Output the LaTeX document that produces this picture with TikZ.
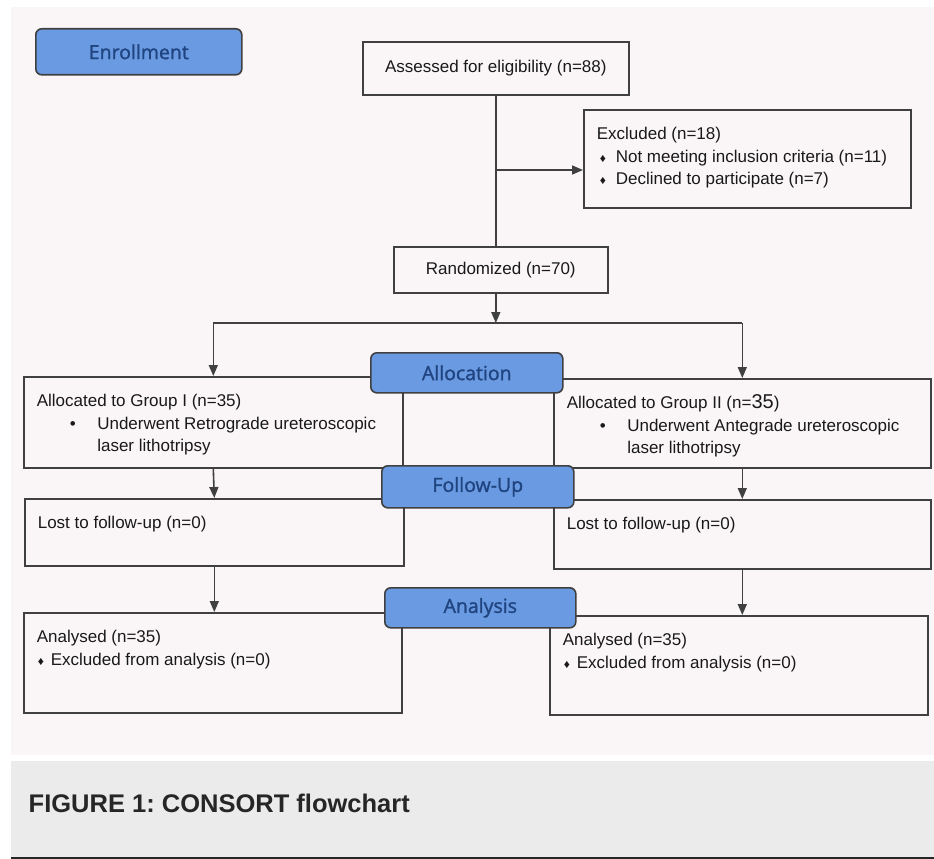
\documentclass[tikz,border=0pt]{standalone}
\usepackage{fontspec}
\setmainfont{Liberation Sans}
\newfontface\stagefont{Open Sans}[FakeBold=1.4]
\usetikzlibrary{arrows.meta}
\definecolor{stageblue}{RGB}{106,155,226}
\definecolor{stagetext}{RGB}{32,68,128}
\definecolor{paper}{RGB}{250,246,247}
\definecolor{capgrey}{RGB}{235,235,235}
% text of a box, pinned to its top
\newcommand\boxtext[3]{\parbox[c][#2][t]{#1}{\raggedright\rule{0pt}{30pt}#3}}
\newcommand\dia{{\fontsize{12}{12}\selectfont ♦}}

\begin{document}
\begin{tikzpicture}[x=1pt,y=-1pt,>={Triangle[length=11pt,width=9pt]},
box/.style={
	% The shape:
	rectangle,anchor=north west,
	% The border:
	line width=1.6pt,
	draw=black!75,
	% Font
	font=\fontsize{17}{22.5}\selectfont,text=black!90},
panel/.style={box,inner xsep=13pt,inner ysep=0pt},
stage/.style={
	% The shape:
	rectangle,rounded corners=6pt,anchor=north west,inner sep=0pt,
	% The rest
	line width=1.6pt,draw=black!75,fill=stageblue,
	font=\stagefont\fontsize{19.5}{20}\selectfont,text=stagetext},
link/.style={line width=1.6pt,draw=black!75}]

\useasboundingbox (0,0) rectangle (934,859);

% paper and caption strip
\fill[paper] (11,7) rectangle (934,755);
\fill[capgrey] (11,761) rectangle (934,857);
\fill[black!85] (11,857) rectangle (934,859);
\node (cap) [anchor=west,inner sep=0pt,font=\bfseries\fontsize{25.5}{26}\selectfont,text=black!85]
	at (28.5,803) {\frenchspacing FIGURE 1: CONSORT flowchart};

% main trunk
\node (A) [box,minimum width=266pt,minimum height=53pt] at (362,41) {Assessed for eligibility (n=88)};
\node (B) [panel] at (583,109) {\boxtext{301pt}{98pt}{Excluded (n=18)\\
	\hspace*{3pt}\makebox[16pt][l]{\dia}Not meeting inclusion criteria (n=11)\\
	\hspace*{3pt}\makebox[16pt][l]{\dia}Declined to participate (n=7)}};
\node (C) [box,minimum width=214pt,minimum height=46pt] at (393,246) {Randomized (n=70)};

% the two arms
\node (D) [panel] at (23,376) {\boxtext{353pt}{91pt}{Allocated to Group I (n=35)\\
	\hspace*{33pt}\makebox[27.5pt][l]{\textbullet}Underwent Retrograde ureteroscopic\\
	\hspace*{60.5pt}laser lithotripsy}};
\node (E) [panel] at (553,378) {\boxtext{351pt}{89pt}{Allocated to Group II (n={\fontsize{20}{20}\selectfont 35})\\
	\hspace*{33pt}\makebox[27.5pt][l]{\textbullet}Underwent Antegrade ureteroscopic\\
	\hspace*{60.5pt}laser lithotripsy}};
\node (F) [panel] at (24,498) {\boxtext{353pt}{67pt}{Lost to follow-up (n=0)}};
\node (G) [panel] at (553,499) {\boxtext{351pt}{69pt}{Lost to follow-up (n=0)}};
\node (H) [panel] at (23,612) {\boxtext{352pt}{100pt}{Analysed (n=35)\\
	\hspace*{1pt}\makebox[13pt][l]{\dia}Excluded from analysis (n=0)}};
\node (I) [panel] at (549,615) {\boxtext{352pt}{99pt}{Analysed (n=35)\\
	\hspace*{1pt}\makebox[13pt][l]{\dia}Excluded from analysis (n=0)}};

% connectors
\coordinate (split) at (A.south |- 0,170);
\coordinate (fork) at (A.south |- 0,323);
\draw[link] (A.south) -- (A.south |- C.north);
\draw[link,->] (split) -- (split -| B.west);
\draw[link,->] (A.south |- C.south) -- (fork);
\draw[link] (D.north |- fork) -- (E.north |- fork);
\draw[link,->] (D.north |- fork) -- (D.north);
\draw[link,->] (E.north |- fork) -- (E.north);
\draw[link,->] (D.south) -- (F.north);
\draw[link,->] (E.south) -- (G.north);
\draw[link,->] (F.south) -- (F.south |- H.north);
\draw[link,->] (G.south) -- (G.south |- I.north);

% stage labels go on top
\node (r1) [stage,minimum width=206pt,minimum height=46pt] at (35,28) {Enrollment};
\node (r2) [stage,minimum width=192pt,minimum height=40pt] at (370,352) {Allocation};
\node (r3) [stage,minimum width=192pt,minimum height=42pt] at (381,465) {Follow-Up};
\node (r4) [stage,minimum width=191pt,minimum height=40pt] at (384,587) {Analysis};

\end{tikzpicture}
\end{document}
